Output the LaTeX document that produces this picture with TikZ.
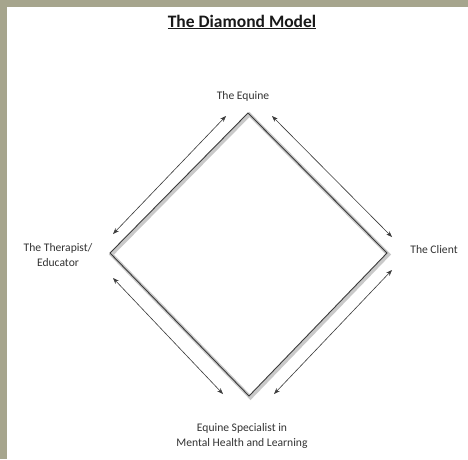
\documentclass[tikz,border=0pt]{standalone}
\usepackage{fontspec}
\setmainfont{Carlito}
\usetikzlibrary{arrows.meta}
\definecolor{framegray}{HTML}{A6A58D}
\definecolor{darkline}{HTML}{3A3A3A}
\definecolor{shadegray}{HTML}{B8B8B8}
\definecolor{labeltext}{HTML}{333333}
\tikzset{
  heading/.style={font=\fontsize{17.5}{20}\selectfont\bfseries, text=black!90, inner sep=1pt},
  lbl/.style={font=\fontsize{11.6}{14.5}\selectfont, text=labeltext, align=center, inner sep=1pt},
  edgeshade/.style={draw=shadegray, line width=3.6pt, line join=miter, opacity=0.75},
  edgeline/.style={draw=darkline, line width=0.9pt, line join=miter},
  twoway/.style={{Stealth[length=6pt,width=4.5pt]}-{Stealth[length=6pt,width=4.5pt]},
                 draw=darkline, line width=0.6pt}
}

\begin{document}
\begin{tikzpicture}[x=1pt, y=-1pt]
\useasboundingbox (0,0) rectangle (468,459);

%% Frame and page
\fill[framegray] (0,0) rectangle (468,459);
\fill[white] (7,7) rectangle (468,459);

%% Title
\node[heading] (title) at (242,22) {\underline{The Diamond Model}};

%% Diamond corners
\coordinate (top)    at (248,113);
\coordinate (left)   at (110,253);
\coordinate (right)  at (387,253);
\coordinate (bottom) at (249,396);

% shadow first, then the edge itself
\draw[edgeshade] ([shift={(1.5,1.5)}]top) -- ([shift={(1.5,1.5)}]right)
  -- ([shift={(1.5,1.5)}]bottom) -- ([shift={(1.5,1.5)}]left) -- cycle;
\draw[edgeline] (top) -- (right) -- (bottom) -- (left) -- cycle;

%% Labels
\node[lbl] (equine)    at (243,96)  {The Equine};
\node[lbl] (therapist) at (58,255)  {The Therapist/\\Educator};
\node[lbl] (client)    at (434,250) {The Client};
\node[lbl] (special)   at (242,436) {Equine Specialist in\\Mental Health and Learning};

%% Arrow ends, just outside each side
\coordinate (tlA) at (113,234);
\coordinate (tlB) at (226,116);
\coordinate (trA) at (272,116);
\coordinate (trB) at (392,237);
\coordinate (brA) at (392,270);
\coordinate (brB) at (274,394);
\coordinate (blA) at (223,394);
\coordinate (blB) at (113,278);

%% Two-way arrows
\draw[twoway] (tlA) -- (tlB);
\draw[twoway] (trA) -- (trB);
\draw[twoway] (brA) -- (brB);
\draw[twoway] (blA) -- (blB);

\end{tikzpicture}
\end{document}
